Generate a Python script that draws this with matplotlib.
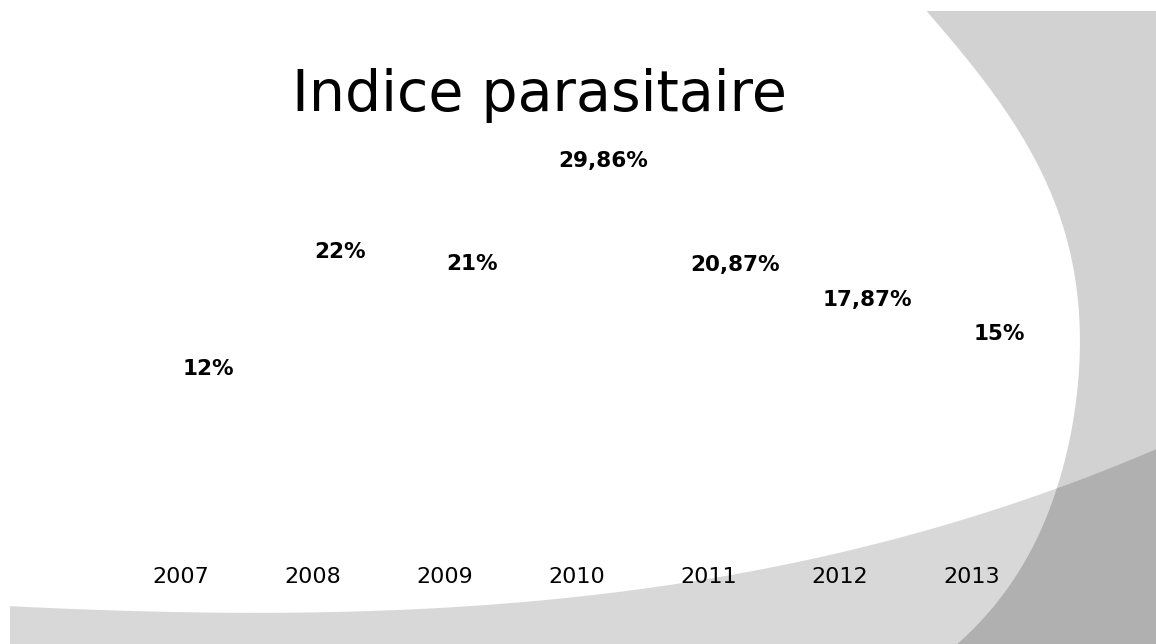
import matplotlib
matplotlib.use("Agg")
import matplotlib.pyplot as plt
import numpy as np
from matplotlib.patches import Polygon

# data
years = ["2007", "2008", "2009", "2010", "2011", "2012", "2013"]
values = [12, 22, 21, 29.86, 20.87, 17.87, 15]
labels = ["12%", "22%", "21%", "29,86%", "20,87%", "17,87%", "15%"]
title = "Indice parasitaire"

W, H = 1156, 644


def px(points):
    # pixel coords (origin top-left) -> figure fraction
    return [(x / W, 1 - y / H) for x, y in points]


fig = plt.figure(figsize=(W / 100, H / 100), dpi=100)
fig.patch.set_facecolor("white")

# background decoration (slide theme shapes), outlines smoothed with a polyfit
arc_pts = np.array([(927, 11), (945, 33), (973, 67), (998, 100), (1020, 133), (1038, 167),
                    (1055, 200), (1066, 233), (1073, 267), (1078, 300), (1080, 330),
                    (1077, 367), (1075, 400), (1071, 433), (1065, 467), (1058, 487),
                    (1047, 520), (1028, 553), (1007, 587), (982, 620), (958, 644)])
cx = np.polyfit(arc_pts[:, 1], arc_pts[:, 0], 5)
ys = np.linspace(11, 644, 200)
arc_edge = list(zip(np.polyval(cx, ys), ys))
arc_shape = px(arc_edge + [(1156, 644), (1156, 11)])
arc = Polygon(arc_shape, closed=True, transform=fig.transFigure,
              facecolor="#d2d2d2", edgecolor="none", zorder=0)
fig.add_artist(arc)

band_pts = np.array([(10, 608), (150, 610), (300, 610), (400, 608), (500, 605), (600, 597),
                     (700, 585), (800, 563), (900, 533), (1000, 503), (1100, 473), (1156, 452)])
cy = np.polyfit(band_pts[:, 0], band_pts[:, 1], 3)
xs = np.linspace(10, 1156, 200)
band_edge = list(zip(xs, np.polyval(cy, xs)))
band_shape = px(band_edge + [(1156, 644), (10, 644)])
band = Polygon(band_shape, closed=True, transform=fig.transFigure,
               facecolor="#d8d8d8", edgecolor="none", zorder=0)
fig.add_artist(band)

overlap = Polygon(band_shape, closed=True, transform=fig.transFigure,
                  facecolor="#b0b0b0", edgecolor="none", zorder=0)
clip = Polygon(arc_shape, closed=True, transform=fig.transFigure,
               facecolor="none", edgecolor="none")
fig.add_artist(overlap)
overlap.set_clip_path(clip)

# chart area
ax_bottom = 518
ax_left = 115.1
ax = fig.add_axes([ax_left / W, 1 - ax_bottom / H, 922.6 / W, 407.6 / H])
ax.patch.set_alpha(0)
x = range(len(years))
bars = ax.bar(x, values, width=0.6, color="none", edgecolor="none")
ax.set_xlim(-0.5, 6.5)
ax.set_ylim(0, 35)

for b, lab in zip(bars, labels):
    ax.annotate(lab, xy=(b.get_x() + b.get_width() / 2, b.get_height()),
                xytext=(19.5, 7), textcoords="offset points",
                ha="center", va="center", fontsize=15.5, fontweight="bold")

ax.set_xticks(list(x))
ax.set_xticklabels(years, fontsize=16)
ax.tick_params(axis="x", length=0, pad=35)
ax.set_yticks([])
for s in ax.spines.values():
    s.set_visible(False)

fig.text(539 / W, 1 - 110.7 / H, title, ha="center", va="baseline", fontsize=41)

fig.savefig("out.png", dpi=100, facecolor="white")
